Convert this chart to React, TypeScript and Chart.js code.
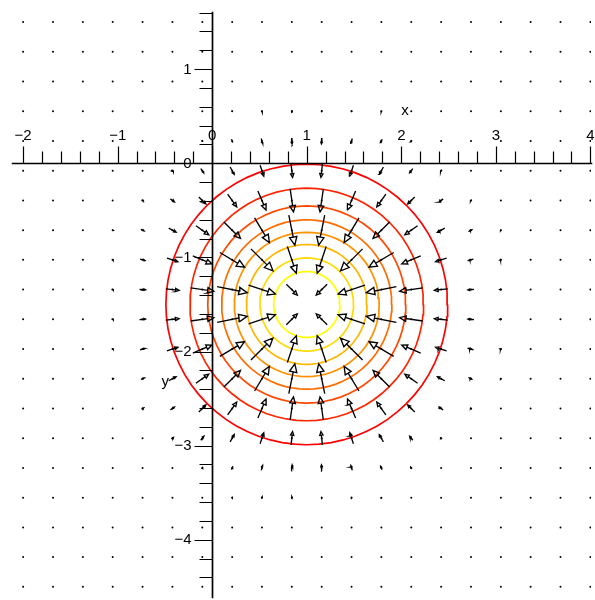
import React, { useEffect, useRef } from "react";
import { Chart, registerables } from "chart.js";

Chart.register(...registerables);

// ---- data ----
// sample grid of the gradient field (20 x 20 points)
const gridX = [-2, -1.684, -1.368, -1.053, -0.737, -0.421, -0.105, 0.211, 0.526, 0.842, 1.158, 1.474, 1.789, 2.105, 2.421, 2.737, 3.053, 3.368, 3.684, 4];
const gridY = [1.5, 1.184, 0.868, 0.553, 0.237, -0.079, -0.395, -0.711, -1.026, -1.342, -1.658, -1.974, -2.289, -2.605, -2.921, -3.237, -3.553, -3.868, -4.184, -4.5];
// peak of the surface f = exp(-((x-1)^2 + (y+1.5)^2))
const peakX = 1;
const peakY = -1.5;
// arrow length per unit of gradient (data units)
const arrowScale = 0.385;
// contour radii (outer -> inner)
const contourRadii = [1.49, 1.235, 1.047, 0.9, 0.766, 0.637, 0.495, 0.35];
const contourColors = ["#ff0000", "#ff2400", "#ff4900", "#ff6d00", "#ff9200", "#ffb600", "#ffdb00", "#ffff00"];
// axes
const xMajorTicks = [-2, -1, 0, 1, 2, 3, 4];
const xTickLabels = ["−2", "−1", "0", "1", "2", "3", "4"];
const yMajorTicks = [1, 0, -1, -2, -3, -4];
const yTickLabels = ["1", "0", "−1", "−2", "−3", "−4"];
const xAxisTitle = "x";
const yAxisTitle = "y";

type P = { x: number; y: number };

function buildArrows(): P[] {
  const pts: P[] = [];
  const gap = { x: NaN, y: NaN };
  for (const gy of gridY) {
    for (const gx of gridX) {
      const dx = gx - peakX;
      const dy = gy - peakY;
      const e = Math.exp(-(dx * dx + dy * dy));
      const vx = -2 * dx * e * arrowScale;
      const vy = -2 * dy * e * arrowScale;
      const L = Math.hypot(vx, vy);
      if (L < 0.012) continue;
      const ux = vx / L, uy = vy / L;
      const nx = -uy, ny = ux;
      const tail = { x: gx - vx / 2, y: gy - vy / 2 };
      const tip = { x: gx + vx / 2, y: gy + vy / 2 };
      const hl = 0.27 * L;
      const hw = 0.12 * L;
      const base = { x: tip.x - ux * hl, y: tip.y - uy * hl };
      const left = { x: base.x + nx * hw, y: base.y + ny * hw };
      const right = { x: base.x - nx * hw, y: base.y - ny * hw };
      pts.push(tail, base, left, tip, right, base, gap);
    }
  }
  return pts;
}

function buildDots(): P[] {
  const pts: P[] = [];
  for (const gy of gridY) for (const gx of gridX) pts.push({ x: gx, y: gy });
  return pts;
}

function buildContour(r: number): P[] {
  const pts: P[] = [];
  const n = 72;
  for (let k = 0; k <= n; k++) {
    const a = (2 * Math.PI * k) / n;
    pts.push({ x: peakX + r * Math.cos(a), y: peakY + r * Math.sin(a) });
  }
  return pts;
}

const axesPlugin = {
  id: "mapleAxes",
  afterDatasetsDraw(chart: any) {
    const { ctx, scales } = chart;
    const xs = scales.x;
    const ys = scales.y;
    const x0 = Math.round(xs.getPixelForValue(0)) + 0.5;
    const y0 = Math.round(ys.getPixelForValue(0)) + 0.5;
    ctx.save();
    ctx.strokeStyle = "#000";
    ctx.fillStyle = "#000";
    // axis lines
    ctx.lineWidth = 1.7;
    ctx.beginPath();
    ctx.moveTo(xs.getPixelForValue(-2.12), y0);
    ctx.lineTo(xs.getPixelForValue(4.02), y0);
    ctx.moveTo(x0, ys.getPixelForValue(1.61));
    ctx.lineTo(x0, ys.getPixelForValue(-4.62));
    ctx.stroke();
    // ticks
    ctx.lineWidth = 1.2;
    ctx.beginPath();
    for (let k = -10; k <= 20; k++) {
      const v = k / 5;
      const px = Math.round(xs.getPixelForValue(v)) + 0.5;
      const len = k % 5 === 0 ? 17 : 12;
      ctx.moveTo(px, y0);
      ctx.lineTo(px, y0 - len);
    }
    for (let k = -22; k <= 8; k++) {
      const v = k / 5;
      const py = Math.round(ys.getPixelForValue(v)) + 0.5;
      const len = k % 5 === 0 ? 18 : 13;
      ctx.moveTo(x0, py);
      ctx.lineTo(x0 - len, py);
    }
    ctx.stroke();
    // labels
    ctx.font = '15px "Liberation Sans", Arial, Helvetica, sans-serif';
    ctx.textAlign = "center";
    ctx.textBaseline = "alphabetic";
    xMajorTicks.forEach((v, i) => {
      ctx.fillText(xTickLabels[i], xs.getPixelForValue(v), y0 - 24);
    });
    ctx.textAlign = "right";
    ctx.textBaseline = "middle";
    yMajorTicks.forEach((v, i) => {
      ctx.fillText(yTickLabels[i], x0 - 21, ys.getPixelForValue(v) + 0.5);
    });
    ctx.textAlign = "center";
    ctx.textBaseline = "alphabetic";
    ctx.fillText(xAxisTitle, xs.getPixelForValue(2.04), ys.getPixelForValue(0.51));
    ctx.fillText(yAxisTitle, xs.getPixelForValue(-0.496), ys.getPixelForValue(-2.365));
    ctx.restore();
  },
};

export default function App() {
  const ref = useRef<HTMLCanvasElement | null>(null);
  useEffect(() => {
    if (!ref.current) return;
    const datasets: any[] = [
      {
        label: "field",
        data: buildArrows(),
        showLine: true,
        borderColor: "#000",
        borderWidth: 1.35,
        borderJoinStyle: "miter",
        pointRadius: 0,
        spanGaps: false,
        order: 0,
      },
      {
        label: "dots",
        data: buildDots(),
        showLine: false,
        pointRadius: 1,
        pointBorderWidth: 0,
        pointBackgroundColor: "#000",
        order: 1,
      },
    ];
    contourRadii.forEach((r, i) => {
      datasets.push({
        label: "c" + i,
        data: buildContour(r),
        showLine: true,
        borderColor: contourColors[i],
        borderWidth: 1.7,
        pointRadius: 0,
        order: 2,
      });
    });
    const chart = new Chart(ref.current, {
      type: "scatter",
      data: { datasets },
      options: {
        animation: false,
        responsive: false,
        devicePixelRatio: 1,
        events: [],
        layout: { padding: 0 },
        plugins: { legend: { display: false }, tooltip: { enabled: false } },
        scales: {
          x: { type: "linear", min: -2.2024, max: 4.0065, display: false },
          y: { type: "linear", min: -4.597, max: 1.692, display: false },
        },
      },
      plugins: [axesPlugin],
    });
    return () => chart.destroy();
  }, []);
  return (
    <div style={{ position: "fixed", left: 0, top: 0, width: 595, height: 600, background: "#fff" }}>
      <canvas ref={ref} width={595} height={600} style={{ display: "block" }} />
    </div>
  );
}
